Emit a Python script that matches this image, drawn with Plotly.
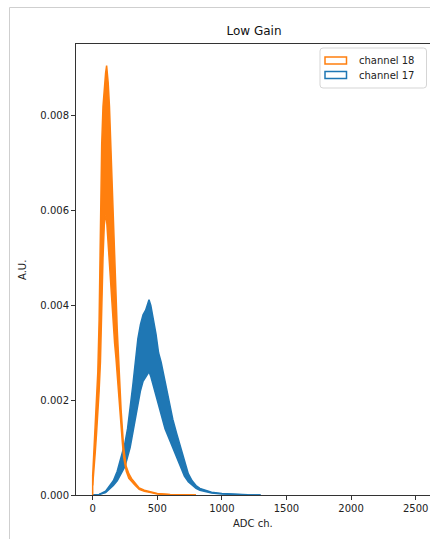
import plotly.graph_objects as go

# ---------------- data ----------------
# channel 18 (orange): upper / lower envelope of the odd/even-bin histogram
x_ch18 = [0, 10, 20, 30, 40, 50, 60, 70, 80, 90, 100, 108, 115, 120, 130, 140, 150, 160,
          170, 180, 190, 200, 210, 220, 230, 240, 260, 280, 300, 330, 360, 400, 450, 500, 600,
          700, 800]
hi_ch18 = [0.0004, 0.0009, 0.0015, 0.0021, 0.0026, 0.0037, 0.0060, 0.0074, 0.0082, 0.0086,
           0.0089, 0.00906, 0.0089, 0.0087, 0.0082, 0.0075, 0.0068, 0.0059, 0.0051, 0.0043,
           0.0035, 0.0028, 0.0022, 0.0018, 0.0014, 0.0010, 0.0006, 0.00045, 0.00035, 0.00025,
           0.00015, 0.0001, 0.00006, 0.00003, 0.00001, 0.000005, 0.0]
lo_ch18 = [0.0002, 0.0005, 0.0009, 0.0013, 0.0017, 0.0022, 0.0028, 0.0040, 0.0050, 0.0057,
           0.0059, 0.0058, 0.0055, 0.0052, 0.0047, 0.0043, 0.0040, 0.0036, 0.0032, 0.0029,
           0.0025, 0.0021, 0.0017, 0.0014, 0.0011, 0.0008, 0.0005, 0.00035, 0.00028, 0.0002,
           0.00012, 0.00008, 0.00005, 0.00002, 0.000005, 0.000002, 0.0]

# channel 17 (blue)
x_ch17 = [0, 50, 100, 130, 160, 190, 210, 230, 250, 270, 290, 310, 330, 350, 370, 390, 410,
          436, 450, 470, 490, 510, 530, 560, 590, 620, 650, 680, 710, 740, 770, 800, 830, 870,
          920, 1000, 1100, 1200, 1300]
hi_ch17 = [0.0, 0.00001, 0.00008, 0.0002, 0.0003, 0.0005, 0.0007, 0.0009, 0.0011, 0.0014,
           0.0018, 0.0023, 0.0028, 0.0033, 0.0036, 0.0038, 0.0039, 0.00412, 0.0040, 0.0037,
           0.0034, 0.0030, 0.0028, 0.0024, 0.0020, 0.0016, 0.0013, 0.0010, 0.0007, 0.00045,
           0.0003, 0.0002, 0.00014, 0.0001, 0.00006, 0.00003, 0.00001, 0.000003, 0.0]
lo_ch17 = [0.0, 0.00001, 0.00005, 0.00012, 0.0002, 0.0003, 0.0004, 0.0005, 0.0006, 0.0008,
           0.0010, 0.0013, 0.0016, 0.0019, 0.0022, 0.0024, 0.0025, 0.0026, 0.0025, 0.0023,
           0.0021, 0.0019, 0.0017, 0.0014, 0.0012, 0.0010, 0.0008, 0.0006, 0.0004, 0.00028,
           0.0002, 0.00014, 0.0001, 0.00007, 0.00004, 0.00002, 0.000005, 0.000001, 0.0]

labels = ["channel 18", "channel 17"]
x_ticks = [0, 500, 1000, 1500, 2000, 2500]
y_ticks = [0.000, 0.002, 0.004, 0.006, 0.008]

C18 = "#ff7f0e"
C17 = "#1f77b4"

# ---------------- geometry ----------------
W, H = 430, 539
L_PX, R_PX, T_PX, B_PX = 76, 430, 44, 495


def px(x):
    return (x - L_PX) / (R_PX - L_PX)


def py(y):
    return (B_PX - y) / (B_PX - T_PX)


fig = go.Figure()


def add_band(x, hi, lo, color):
    fig.add_trace(go.Scatter(x=x, y=hi, mode="lines", line=dict(color=color, width=1.5),
                             showlegend=False, hoverinfo="skip"))
    fig.add_trace(go.Scatter(x=x, y=lo, mode="lines", line=dict(color=color, width=1.5),
                             fill="tonexty", fillcolor=color, showlegend=False,
                             hoverinfo="skip"))
    # left edge of the step histogram
    fig.add_trace(go.Scatter(x=[x[0], x[0]], y=[0, hi[0]], mode="lines",
                             line=dict(color=color, width=1.5), showlegend=False,
                             hoverinfo="skip"))


add_band(x_ch17, hi_ch17, lo_ch17, C17)
add_band(x_ch18, hi_ch18, lo_ch18, C18)

axis_font = dict(family="DejaVu Sans", size=10, color="#222")

fig.update_layout(
    width=W, height=H,
    margin=dict(l=L_PX, r=W - R_PX, t=T_PX, b=H - B_PX),
    paper_bgcolor="white", plot_bgcolor="white",
    showlegend=False,
    title=dict(text="Low Gain", x=254 / W, xref="container", xanchor="center",
               y=1 - 31 / H, yref="container", yanchor="middle",
               font=dict(family="DejaVu Sans", size=12, color="#111")),
    xaxis=dict(range=[-129, 2611], tickvals=x_ticks, ticktext=[str(v) for v in x_ticks],
               showgrid=False, zeroline=False, showline=True, linecolor="#333",
               linewidth=1, mirror=True, ticks="outside", ticklen=4, tickwidth=1,
               tickcolor="#333", tickfont=axis_font),
    yaxis=dict(range=[0, 0.009515], tickvals=y_ticks,
               ticktext=["%.3f" % v for v in y_ticks],
               showgrid=False, zeroline=False, showline=True, linecolor="#333",
               linewidth=1, ticks="outside", ticklen=4, tickwidth=1,
               tickcolor="#333", tickfont=axis_font),
)

# axis labels
fig.add_annotation(text="ADC ch.", x=px(253), y=py(523), xref="paper", yref="paper",
                   showarrow=False, font=axis_font, xanchor="center", yanchor="middle")
fig.add_annotation(text="A.U.", x=px(22), y=py(270), xref="paper", yref="paper",
                   showarrow=False, font=axis_font, textangle=-90,
                   xanchor="center", yanchor="middle")

# legend (drawn like matplotlib's patch legend)
bx0, by0, bx1, by1, r = 320, 48, 426.5, 88, 3
path = (f"M {px(bx0 + r)},{py(by0)} L {px(bx1 - r)},{py(by0)} "
        f"Q {px(bx1)},{py(by0)} {px(bx1)},{py(by0 + r)} "
        f"L {px(bx1)},{py(by1 - r)} Q {px(bx1)},{py(by1)} {px(bx1 - r)},{py(by1)} "
        f"L {px(bx0 + r)},{py(by1)} Q {px(bx0)},{py(by1)} {px(bx0)},{py(by1 - r)} "
        f"L {px(bx0)},{py(by0 + r)} Q {px(bx0)},{py(by0)} {px(bx0 + r)},{py(by0)} Z")
shapes = [dict(type="path", path=path, xref="paper", yref="paper",
               line=dict(color="#d5d5d5", width=1), fillcolor="rgba(255,255,255,0.85)",
               layer="above")]
for i, (lab, col) in enumerate(zip(labels, [C18, C17])):
    yc = 60.5 + i * 14.5
    shapes.append(dict(type="rect", xref="paper", yref="paper",
                       x0=px(325), x1=px(346.5), y0=py(yc - 3.5), y1=py(yc + 3.5),
                       line=dict(color=col, width=1.5), fillcolor="rgba(0,0,0,0)",
                       layer="above"))
    fig.add_annotation(text=lab, x=px(357), y=py(yc), xref="paper", yref="paper",
                       showarrow=False, xanchor="left", yanchor="middle",
                       font=dict(family="DejaVu Sans", size=10, color="#222"))

# notebook output frame
shapes.append(dict(type="line", xref="paper", yref="paper", x0=px(9.5), x1=px(430),
                   y0=py(7.5), y1=py(7.5), line=dict(color="#cfcfcf", width=1)))
shapes.append(dict(type="line", xref="paper", yref="paper", x0=px(9.5), x1=px(9.5),
                   y0=py(7.5), y1=py(539), line=dict(color="#cfcfcf", width=1)))
fig.update_layout(shapes=shapes)

fig.write_html(
    "out.html",
    config={"displayModeBar": False},
    post_script="document.body.style.margin='0px';document.body.style.overflow='hidden';",
)
